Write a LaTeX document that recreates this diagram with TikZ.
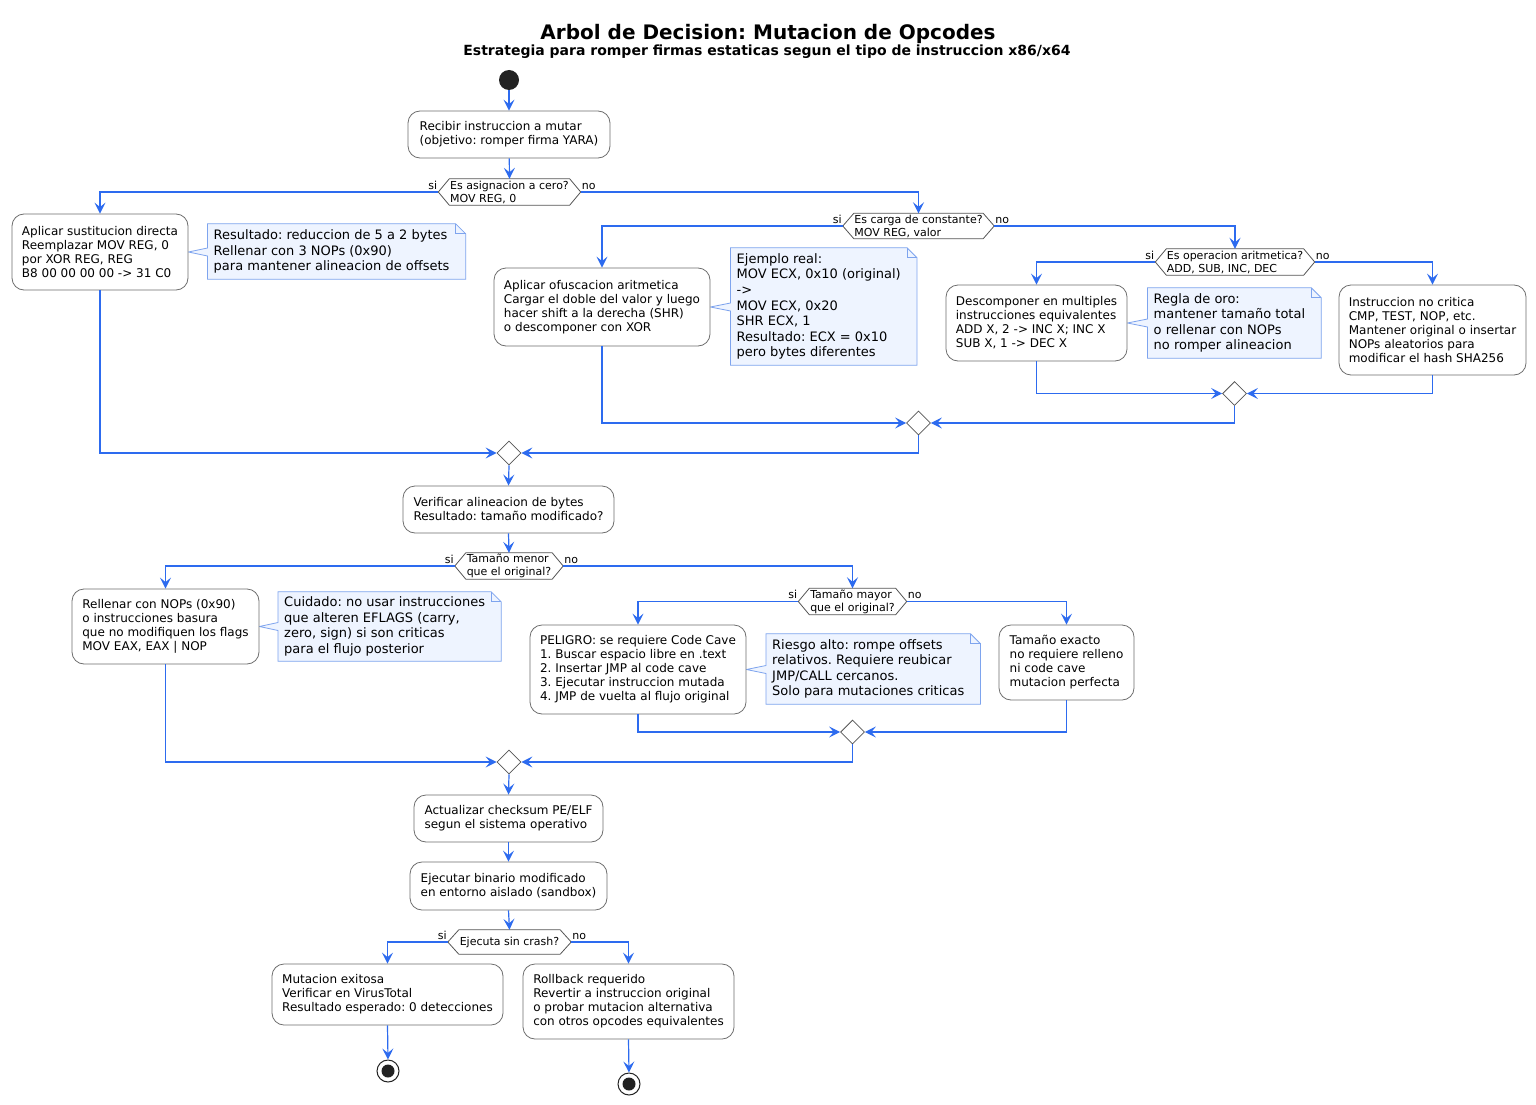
\documentclass[tikz,border=0pt]{standalone}
\usepackage{fontspec}
\setmainfont{DejaVu Sans}
\frenchspacing
\usetikzlibrary{arrows.meta,shapes.geometric,calc,backgrounds}
\definecolor{flowblue}{HTML}{2D6BEF}
\definecolor{boxgray}{HTML}{6E6E6E}
\definecolor{decgray}{HTML}{555555}
\definecolor{notefill}{HTML}{EEF4FF}
\definecolor{noteedge}{HTML}{7EA4EE}
\definecolor{darkdot}{HTML}{222222}
\tikzset{
  act/.style 2 args={draw=boxgray, line width=0.8pt, rounded corners=12pt, fill=white,
    minimum width=#1pt, minimum height=#2pt, inner sep=2pt, align=left,
    font=\fontsize{12}{14}\selectfont},
  dec/.style 2 args={minimum width=#1pt, minimum height=#2pt, inner sep=0pt, align=left,
    font=\fontsize{11}{13}\selectfont},
  decline/.style={draw=decgray, line width=0.8pt, fill=white},
  merge/.style={diamond, draw=decgray, line width=0.8pt, fill=white,
    minimum width=24pt, minimum height=24pt, inner sep=0pt},
  notebox/.style={anchor=west, inner xsep=6pt, inner ysep=3pt, align=left,
    minimum height=#1pt, font=\fontsize{13}{15.6}\selectfont},
  noteline/.style={draw=noteedge, line width=0.8pt},
  flow/.style={draw=flowblue, line width=1.2pt,
    -{Stealth[length=11pt,width=11pt,inset=4.5pt]}},
  lbl/.style={font=\fontsize{11}{13}\selectfont, inner sep=0pt},
  startnode/.style={circle, fill=darkdot, minimum size=20pt, inner sep=0pt},
  endnode/.style={circle, draw=darkdot, line width=1pt, fill=white, minimum size=22pt,
    inner sep=0pt, path picture={\fill[darkdot] (path picture bounding box.center) circle (6.5pt);}},
}
\newcommand\mkhex[1]{\begin{scope}[on background layer]\draw[decline] (#1.west) -- ($(#1.north west)+(11,0)$) -- ($(#1.north east)+(-11,0)$) -- (#1.east) -- ($(#1.south east)+(-11,0)$) -- ($(#1.south west)+(11,0)$) -- cycle;\end{scope}}
\newcommand\mknote[2]{\begin{scope}[on background layer]
  \draw[noteline, fill=notefill] (#1.north west) -- (#1.north east) -- ($(#1.north east)+(10,10)$) -- ($(#1.south east)+(10,0)$) -- (#1.south west) -- ($(#1.west |- #2.east)+(0,4)$) -- (#2.east) -- ($(#1.west |- #2.east)+(0,-4)$) -- cycle;
  \draw[noteline] (#1.north east) -- ($(#1.north east)+(0,10)$) -- ($(#1.north east)+(10,10)$);
  \end{scope}}
\begin{document}
\begin{tikzpicture}[x=1pt, y=-1pt]
\useasboundingbox (0,0) rectangle (1536,1105);
\begin{scope}[on background layer]
\fill[white] (0,0) rectangle (1536,1105);
\end{scope}

\node[anchor=base, font=\fontsize{20}{24}\selectfont\bfseries, inner sep=0pt] (title) at (768,39.3) {Arbol de Decision: Mutacion de Opcodes};
\node[anchor=base, font=\fontsize{14}{17}\selectfont\bfseries, inner sep=0pt] (subtitle) at (767,56) {Estrategia para romper firmas estaticas segun el tipo de instruccion x86/x64};

\node[startnode] (s) at (509,80) {};
\node[act={202}{47}] (b1) at (509,134.5) {Recibir instruccion a mutar\\(objetivo: romper firma YARA)};

% level 1
\node[dec={142}{26}] (d1) at (509.5,192) {Es asignacion a cero?\\MOV REG, 0};
\mkhex{d1}
\node[act={176}{76}] (b2) at (100,252) {Aplicar sustitucion directa\\Reemplazar MOV REG, 0\\por XOR REG, REG\\B8 00 00 00 00 -> 31 C0};
\node[notebox=55] (n1) at (207.5,251.5) {Resultado: reduccion de 5 a 2 bytes\\Rellenar con 3 NOPs (0x90)\\para mantener alineacion de offsets};
\mknote{n1}{b2}

\node[dec={151}{25}] (d2) at (918.5,226) {Es carga de constante?\\MOV REG, valor};
\mkhex{d2}
\node[act={216}{78}] (b3) at (602,307) {Aplicar ofuscacion aritmetica\\Cargar el doble del valor y luego\\hacer shift a la derecha (SHR)\\o descomponer con XOR};
\node[notebox=117] (n2) at (730.5,306.5) {Ejemplo real:\\MOV ECX, 0x10 (original)\\->\\MOV ECX, 0x20\\SHR ECX, 1\\Resultado: ECX = 0x10\\pero bytes diferentes};
\mknote{n2}{b3}

\node[dec={159}{26}] (d3) at (1235,262) {Es operacion aritmetica?\\ADD, SUB, INC, DEC};
\mkhex{d3}
\node[act={181}{76}] (b4) at (1036.5,323) {Descomponer en multiples\\instrucciones equivalentes\\ADD X, 2 -> INC X; INC X\\SUB X, 1 -> DEC X};
\node[notebox=70] (n3) at (1147.5,323) {Regla de oro:\\mantener tamaño total\\o rellenar con NOPs\\no romper alineacion};
\mknote{n3}{b4}
\node[act={187}{90}] (b5) at (1432.5,330) {Instruccion no critica\\CMP, TEST, NOP, etc.\\Mantener original o insertar\\NOPs aleatorios para\\modificar el hash SHA256};

\node[merge] (m3) at (1234.5,393.5) {};
\node[merge] (m2) at (918.5,423) {};
\node[merge] (m1) at (509,453) {};

\node[act={211}{47}] (b6) at (508.5,509.5) {Verificar alineacion de bytes\\Resultado: tamaño modificado?};

% level 2
\node[dec={108}{26}] (d4) at (509,566) {Tamaño menor\\que el original?};
\mkhex{d4}
\node[act={187}{75}] (b7) at (165.5,626.5) {Rellenar con NOPs (0x90)\\o instrucciones basura\\que no modifiquen los flags\\MOV EAX, EAX | NOP};
\node[notebox=69] (n4) at (278,626.5) {Cuidado: no usar instrucciones\\que alteren EFLAGS (carry,\\zero, sign) si son criticas\\para el flujo posterior};
\mknote{n4}{b7}

\node[dec={108}{26}] (d5) at (852.5,601.5) {Tamaño mayor\\que el original?};
\mkhex{d5}
\node[act={216}{89}] (b8) at (638,669.5) {PELIGRO: se requiere Code Cave\\1. Buscar espacio libre en .text\\2. Insertar JMP al code cave\\3. Ejecutar instruccion mutada\\4. JMP de vuelta al flujo original};
\node[notebox=70] (n5) at (766,669) {Riesgo alto: rompe offsets\\relativos. Requiere reubicar\\JMP/CALL cercanos.\\Solo para mutaciones criticas};
\mknote{n5}{b8}
\node[act={135}{75}] (b9) at (1066.5,662.5) {Tamaño exacto\\no requiere relleno\\ni code cave\\mutacion perfecta};

\node[merge] (m5) at (852.5,732) {};
\node[merge] (m4) at (509,762) {};

\node[act={189}{47}] (b10) at (508.5,818.5) {Actualizar checksum PE/ELF\\segun el sistema operativo};
\node[act={197}{48}] (b11) at (508.5,886) {Ejecutar binario modificado\\en entorno aislado (sandbox)};

\node[dec={123}{24}] (d6) at (509.5,942) {Ejecuta sin crash?};
\mkhex{d6}
\node[act={231}{61}] (b12) at (387.5,994.5) {Mutacion exitosa\\Verificar en VirusTotal\\Resultado esperado: 0 detecciones};
\node[act={211}{75}] (b13) at (628.5,1001.5) {Rollback requerido\\Revertir a instruccion original\\o probar mutacion alternativa\\con otros opcodes equivalentes};
\node[endnode] (e1) at (388,1071) {};
\node[endnode] (e2) at (629,1084) {};

% labels
\node[lbl, anchor=base east] (l1s) at ($(d1.west)+(-1,-3)$) {si};
\node[lbl, anchor=base west] (l1n) at ($(d1.east)+(1,-3)$) {no};
\node[lbl, anchor=base east] (l2s) at ($(d2.west)+(-1,-3)$) {si};
\node[lbl, anchor=base west] (l2n) at ($(d2.east)+(1,-3)$) {no};
\node[lbl, anchor=base east] (l3s) at ($(d3.west)+(-1,-3)$) {si};
\node[lbl, anchor=base west] (l3n) at ($(d3.east)+(1,-3)$) {no};
\node[lbl, anchor=base east] (l4s) at ($(d4.west)+(-1,-3)$) {si};
\node[lbl, anchor=base west] (l4n) at ($(d4.east)+(1,-3)$) {no};
\node[lbl, anchor=base east] (l5s) at ($(d5.west)+(-1,-3)$) {si};
\node[lbl, anchor=base west] (l5n) at ($(d5.east)+(1,-3)$) {no};
\node[lbl, anchor=base east] (l6s) at ($(d6.west)+(-1,-3)$) {si};
\node[lbl, anchor=base west] (l6n) at ($(d6.east)+(1,-3)$) {no};

% connectors
\draw[flow] (s) -- (b1);
\draw[flow] (b1) -- (d1.north);
\draw[flow] (d1.west) -| (b2.north);
\draw[flow] (d1.east) -| (d2.north);
\draw[flow] (d2.west) -| (b3.north);
\draw[flow] (d2.east) -| (d3.north);
\draw[flow] (d3.west) -| (b4.north);
\draw[flow] (d3.east) -| (b5.north);
\draw[flow] (b4.south) |- (m3.west);
\draw[flow] (b5.south) |- (m3.east);
\draw[flow] (b3.south) |- (m2.west);
\draw[flow] (m3.south) |- (m2.east);
\draw[flow] (b2.south) |- (m1.west);
\draw[flow] (m2.south) |- (m1.east);
\draw[flow] (m1.south) -- (b6.north);
\draw[flow] (b6.south) -- (d4.north);
\draw[flow] (d4.west) -| (b7.north);
\draw[flow] (d4.east) -| (d5.north);
\draw[flow] (d5.west) -| (b8.north);
\draw[flow] (d5.east) -| (b9.north);
\draw[flow] (b8.south) |- (m5.west);
\draw[flow] (b9.south) |- (m5.east);
\draw[flow] (b7.south) |- (m4.west);
\draw[flow] (m5.south) |- (m4.east);
\draw[flow] (m4.south) -- (b10.north);
\draw[flow] (b10.south) -- (b11.north);
\draw[flow] (b11.south) -- (d6.north);
\draw[flow] (d6.west) -| (b12.north);
\draw[flow] (d6.east) -| (b13.north);
\draw[flow] (b12.south) -- (e1.north);
\draw[flow] (b13.south) -- (e2.north);
\end{tikzpicture}
\end{document}
